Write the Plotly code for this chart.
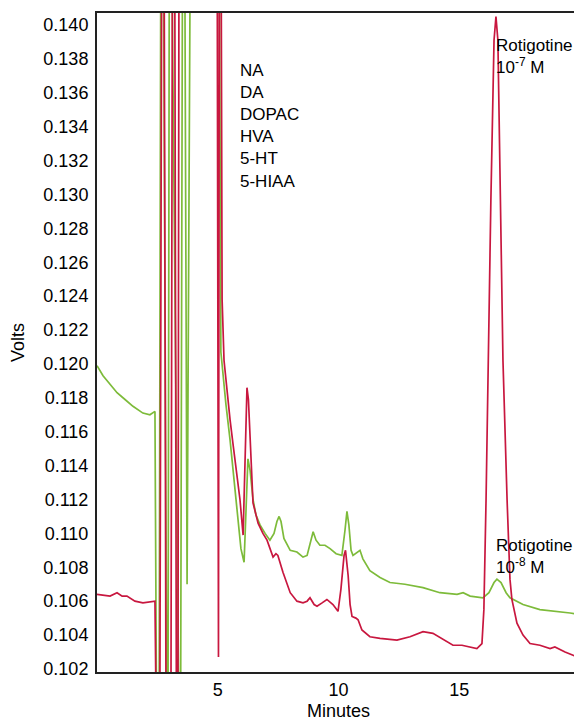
import plotly.graph_objects as go

# Green trace (Rotigotine 10^-8 M run)
green_t = [0.00, 0.25, 0.54, 0.83, 1.16, 1.49, 1.90, 2.19, 2.40,
           2.47, 2.57, 2.65, 2.73, 2.90, 2.94, 3.00, 3.06, 3.40, 3.46, 3.55, 3.62, 3.73, 3.88, 5.05,
           5.13, 5.22, 5.34, 5.51, 5.67, 5.84, 5.96, 6.09, 6.17, 6.25, 6.34, 6.46, 6.58, 6.75,
           6.96, 7.16, 7.33, 7.45, 7.54, 7.62, 7.74, 8.00, 8.28, 8.53, 8.70, 8.82, 8.95, 9.07,
           9.23, 9.44, 9.65, 9.90, 10.14, 10.27, 10.35, 10.43, 10.52, 10.60, 10.77, 10.89, 11.01,
           11.30, 11.72, 12.13, 12.75, 13.50, 14.20, 14.91, 15.16, 15.45, 15.98, 16.23, 16.44,
           16.56, 16.73, 16.94, 17.10, 17.35, 17.64, 18.34, 19.05, 19.59, 20.08]
green_v = [0.1199, 0.1193, 0.1188, 0.1183, 0.1179, 0.1175, 0.1171, 0.1170, 0.1172,
           0.098, 0.098, 0.150, 0.150, 0.098, 0.098, 0.150, 0.150, 0.098, 0.098, 0.150, 0.150, 0.1070, 0.150, 0.150,
           0.1207, 0.1193, 0.1176, 0.1155, 0.1132, 0.1108, 0.1091, 0.1083, 0.1114, 0.1144, 0.1137,
           0.1120, 0.1111, 0.1105, 0.1100, 0.1096, 0.1100, 0.1107, 0.1110, 0.1107, 0.1097, 0.1090,
           0.1089, 0.1086, 0.1087, 0.1093, 0.1101, 0.1096, 0.1093, 0.1093, 0.1091, 0.1088, 0.1087,
           0.1102, 0.1113, 0.1105, 0.1090, 0.1087, 0.1089, 0.1090, 0.1085, 0.1078, 0.1074, 0.1071,
           0.1070, 0.1068, 0.1065, 0.1064, 0.1065, 0.1063, 0.1062, 0.1065, 0.1071, 0.1073, 0.1071,
           0.1065, 0.1062, 0.1060, 0.1058, 0.1055, 0.1054, 0.1053, 0.1052]

# Red trace (Rotigotine 10^-7 M run)
red_t = [0.00, 0.54, 0.83, 1.04, 1.24, 1.57, 1.90, 2.40,
         2.46, 2.60, 2.69, 2.77, 2.86, 3.06, 3.13, 3.21, 3.29, 3.35, 3.40, 4.97, 5.03, 5.07, 5.13,
         5.18, 5.26, 5.38, 5.51, 5.63, 5.80, 5.92, 6.05, 6.13, 6.21, 6.27, 6.34, 6.46, 6.67, 6.87,
         7.04, 7.29, 7.41, 7.49, 7.70, 8.00, 8.28, 8.53, 8.70, 8.82, 8.99, 9.11, 9.32, 9.52, 9.77,
         9.98, 10.10, 10.23, 10.29, 10.40, 10.48, 10.56, 10.72, 10.81, 10.97, 11.30, 11.72, 12.42,
         12.96, 13.50, 13.91, 14.41, 14.74, 15.11, 15.73, 15.94, 16.02, 16.11, 16.19, 16.31, 16.44,
         16.52, 16.60, 16.69, 16.81, 16.98, 17.10, 17.18, 17.39, 17.64, 17.93, 18.34, 18.76, 18.96,
         19.38, 20.08]
red_v = [0.1064, 0.1063, 0.1065, 0.1063, 0.1063, 0.1060, 0.1059, 0.1060,
         0.098, 0.098, 0.150, 0.150, 0.098, 0.098, 0.150, 0.150, 0.098, 0.098, 0.150, 0.150, 0.1027, 0.150, 0.150,
         0.1238, 0.1202, 0.1183, 0.1167, 0.1153, 0.1134, 0.1120, 0.1099, 0.1137, 0.1186, 0.1179,
         0.1153, 0.1118, 0.1106, 0.1100, 0.1096, 0.1086, 0.1088, 0.1087, 0.1077, 0.1065, 0.1060,
         0.1059, 0.1060, 0.1062, 0.1058, 0.1057, 0.1059, 0.1061, 0.1058, 0.1054, 0.1067, 0.1087,
         0.1090, 0.1075, 0.1058, 0.1051, 0.1050, 0.1049, 0.1043, 0.1039, 0.1038, 0.1037, 0.1039,
         0.1042, 0.1041, 0.1037, 0.1034, 0.1034, 0.1032, 0.1035, 0.1055, 0.1120, 0.1202, 0.1297,
         0.1391, 0.1405, 0.1391, 0.1297, 0.1202, 0.1120, 0.1073, 0.1061, 0.1047, 0.1040, 0.1035,
         0.1034, 0.1032, 0.1033, 0.1030, 0.1026]

x_ticks = [5, 10, 15]
y_ticks = [0.102 + 0.002 * i for i in range(20)]

FONT = "Liberation Sans, Arial, Helvetica, sans-serif"

fig = go.Figure()
fig.add_trace(go.Scatter(x=green_t, y=green_v, mode="lines",
                         line=dict(color="#7dbb3a", width=1.7), showlegend=False))
fig.add_trace(go.Scatter(x=red_t, y=red_v, mode="lines",
                         line=dict(color="#c8173f", width=1.7), showlegend=False))

fig.add_annotation(x=5.84, y=0.930, xref="x", yref="paper", xanchor="left", yanchor="top",
                   text="NA<br>DA<br>DOPAC<br>HVA<br>5-HT<br>5-HIAA", showarrow=False, align="left",
                   font=dict(family=FONT, size=17, color="black"))
fig.add_annotation(x=16.42, y=0.968, xref="x", yref="paper", xanchor="left", yanchor="top",
                   text="Rotigotine<br>10<sup>-7</sup> M", showarrow=False, align="left",
                   font=dict(family=FONT, size=17, color="black"))
fig.add_annotation(x=16.42, y=0.2094, xref="x", yref="paper", xanchor="left", yanchor="top",
                   text="Rotigotine<br>10<sup>-8</sup> M", showarrow=False, align="left",
                   font=dict(family=FONT, size=17, color="black"))

fig.update_layout(
    width=574, height=716,
    margin=dict(l=89, r=2, t=5, b=52, autoexpand=False),
    plot_bgcolor="white", paper_bgcolor="white",
    font=dict(family=FONT, size=18, color="black"),
    xaxis=dict(range=[0, 20], tickvals=x_ticks, showgrid=False, zeroline=False,
               showline=True, linecolor="#222", linewidth=2, mirror=True, ticks="",
               automargin=False, tickfont=dict(size=18),
               title=dict(text="Minutes", font=dict(size=18), standoff=6)),
    yaxis=dict(range=[0.10182, 0.14071], tickvals=y_ticks, tickformat=".3f",
               showgrid=False, zeroline=False, showline=True, linecolor="#222",
               linewidth=2, ticks="", ticklabelstandoff=3, automargin=False,
               tickfont=dict(size=18),
               title=dict(text="Volts", font=dict(size=18), standoff=16)),
)
fig.add_shape(type="line", xref="paper", yref="paper", x0=1, x1=1, y0=0, y1=1,
              line=dict(color="#666", width=1))

fig.write_html("out.html")
